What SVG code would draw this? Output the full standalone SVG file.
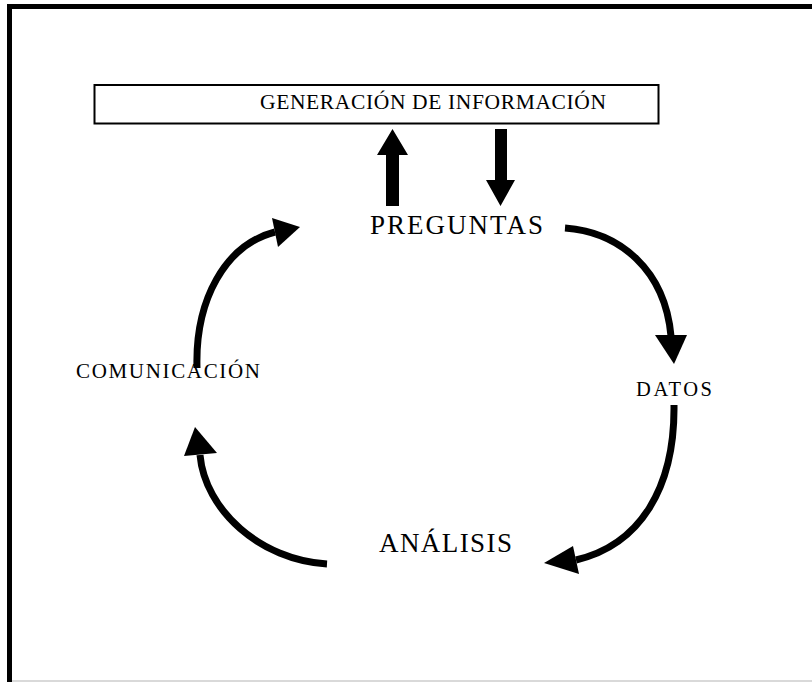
<svg xmlns="http://www.w3.org/2000/svg" width="812" height="682" viewBox="0 0 812 682">
<style>
.t{font-family:"Liberation Serif","Times New Roman",serif;fill:#000}
.c{fill:none;stroke:#000;stroke-width:7;stroke-linecap:butt}
.h{fill:#000}
</style>
<rect x="0" y="0" width="812" height="682" fill="#fff"/>
<g id="frame">
<path d="M9.5,682 V6.5 H812" fill="none" stroke="#000" stroke-width="5"/>
<line x1="12" y1="681" x2="812" y2="681" stroke="#d9d9d9" stroke-width="2"/>
</g>
<g id="generacion">
<rect x="94.5" y="85" width="564" height="38.5" fill="#fff" stroke="#000" stroke-width="2"/>
<text class="t" x="260" y="108.5" font-size="21.5" textLength="346" lengthAdjust="spacing">GENERACIÓN DE INFORMACIÓN</text>
</g>
<g id="preguntas">
<text class="t" x="370" y="234" font-size="27" textLength="173" lengthAdjust="spacing">PREGUNTAS</text>
</g>
<g id="datos">
<text class="t" x="636" y="396" font-size="20.5" textLength="76" lengthAdjust="spacing">DATOS</text>
</g>
<g id="analisis">
<text class="t" x="379" y="552" font-size="27" textLength="133" lengthAdjust="spacing">ANÁLISIS</text>
</g>
<g id="comunicacion">
<text class="t" x="76" y="378" font-size="21" textLength="184" lengthAdjust="spacing">COMUNICACIÓN</text>
</g>
<g id="connectors">
<polygon class="h" points="386,206 386,155 377,155 392.5,129 408,155 399,155 399,206"/>
<polygon class="h" points="495,129 495,180 486,180 500.5,206 515,180 507,180 507,129"/>
<path class="c" d="M565,228 C620,232 665,270 671,336"/>
<polygon class="h" points="655,335 687,335 674,364"/>
<path class="c" d="M674,405 C675,488 640,545 576,560"/>
<polygon class="h" points="573,546 579,574 544,563"/>
<path class="c" d="M327,564 C260,560 205,510 200,455"/>
<polygon class="h" points="184,456 217,453 195,427"/>
<path class="c" d="M197,368 C195,300 225,245 275,232"/>
<polygon class="h" points="272,218 278,247 300,227"/>
</g>
</svg>
